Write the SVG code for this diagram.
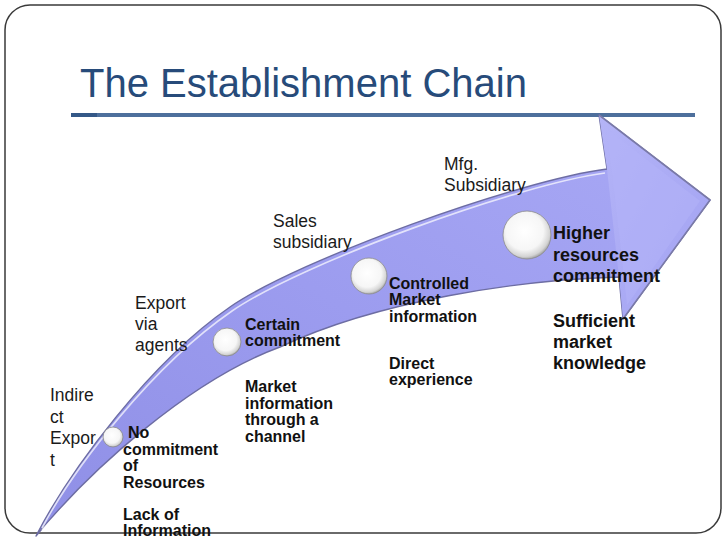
<svg xmlns="http://www.w3.org/2000/svg" width="728" height="546" viewBox="0 0 728 546">
<defs>
  <linearGradient id="bandGrad" x1="0" y1="1" x2="1" y2="0">
    <stop offset="0" stop-color="#8f8fe6"/>
    <stop offset="0.5" stop-color="#9c9cef"/>
    <stop offset="1" stop-color="#a9a9f5"/>
  </linearGradient>
  <linearGradient id="headGrad" x1="0" y1="0" x2="1" y2="1">
    <stop offset="0" stop-color="#b4b4f7"/>
    <stop offset="1" stop-color="#a2a2f2"/>
  </linearGradient>
  <radialGradient id="ball" cx="0.45" cy="0.42" r="0.6">
    <stop offset="0" stop-color="#ffffff"/>
    <stop offset="0.65" stop-color="#f6f6f6"/>
    <stop offset="0.88" stop-color="#d4d4d4"/>
    <stop offset="1" stop-color="#9a9a9a"/>
  </radialGradient>
  <style>
    .frame{fill:#ffffff;stroke:#3a3a3a;stroke-width:1.5}
    .title{font-family:"Liberation Sans",Arial,sans-serif;font-size:40px;fill:#274b7a}
    .lbl{font-family:"Liberation Sans",Arial,sans-serif;font-size:17.5px;fill:#1a1a1a}
    .desc{font-family:"Liberation Sans",Arial,sans-serif;font-size:16px;font-weight:bold;fill:#111111}
    .desc4{font-family:"Liberation Sans",Arial,sans-serif;font-size:18px;font-weight:bold;fill:#111111}
    .ball{fill:url(#ball);stroke:#8c8c8c;stroke-width:0.8}
  </style>
</defs>

<rect class="frame" x="5" y="5" width="716" height="528" rx="25" ry="25"/>

<g id="title">
  <text class="title" x="80" y="97">The Establishment Chain</text>
  <line x1="71" y1="115" x2="695" y2="115" stroke="#4d6f9c" stroke-width="4"/>
  <line x1="71" y1="115" x2="97" y2="115" stroke="#345887" stroke-width="4"/>
</g>

<g id="connectors">
  <g id="chain-arrow">
    <path d="M36,536 C70,470 150,362 230,307 C300,259 520,180 607,169 L599,115 L710,200 L623,319 L619,277 C520,280 380,300 280,347 C190,380 90,470 36,536 Z" fill="url(#bandGrad)" stroke="#6d6da3" stroke-width="1.4" stroke-linejoin="round"/>
    <path d="M607,169 L599,115 L710,200 L623,319 L619,277 Z" fill="url(#headGrad)" stroke="none"/>
    <path d="M612,172 L606,128 L700,201 L627,305 L624,277 Z" fill="#b2b2f7" opacity="0.55"/>
    <path d="M42,528 C74,468 152,366 232,311 C302,263 520,184 605,173" fill="none" stroke="#ffffff" stroke-width="1.6" opacity="0.7"/>
    <path d="M616,281 C520,284 382,304 282,351 C194,384 96,472 42,530" fill="none" stroke="#ffffff" stroke-width="1.6" opacity="0.6"/>
    <path d="M599,115 L710,200 L623,319" fill="none" stroke="#7a7aa8" stroke-width="1.6" stroke-linejoin="round"/>
  </g>
</g>

<g id="stage-indirect-export">
  <circle class="ball" cx="113" cy="437" r="10"/>
  <text class="lbl" x="50" y="401">Indire</text>
  <text class="lbl" x="50" y="423">ct</text>
  <text class="lbl" x="50" y="444">Expor</text>
  <text class="lbl" x="50" y="466">t</text>
  <text class="desc" x="128" y="438">No</text>
  <text class="desc" x="123" y="455">commitment</text>
  <text class="desc" x="123" y="471">of</text>
  <text class="desc" x="123" y="488">Resources</text>
  <text class="desc" x="123" y="520">Lack of</text>
  <text class="desc" x="123" y="536">Information</text>
</g>

<g id="stage-export-via-agents">
  <circle class="ball" cx="227" cy="342" r="14"/>
  <text class="lbl" x="135" y="309">Export</text>
  <text class="lbl" x="135" y="330">via</text>
  <text class="lbl" x="135" y="351">agents</text>
  <text class="desc" x="245" y="330">Certain</text>
  <text class="desc" x="245" y="346">commitment</text>
  <text class="desc" x="245" y="392">Market</text>
  <text class="desc" x="245" y="409">information</text>
  <text class="desc" x="245" y="425">through a</text>
  <text class="desc" x="245" y="442">channel</text>
</g>

<g id="stage-sales-subsidiary">
  <circle class="ball" cx="369" cy="276" r="18"/>
  <text class="lbl" x="273" y="227">Sales</text>
  <text class="lbl" x="273" y="248">subsidiary</text>
  <text class="desc" x="389" y="289">Controlled</text>
  <text class="desc" x="389" y="305">Market</text>
  <text class="desc" x="389" y="322">information</text>
  <text class="desc" x="389" y="369">Direct</text>
  <text class="desc" x="389" y="385">experience</text>
</g>

<g id="stage-mfg-subsidiary">
  <circle class="ball" cx="527" cy="235" r="24"/>
  <text class="lbl" x="444" y="170">Mfg.</text>
  <text class="lbl" x="444" y="191">Subsidiary</text>
  <text class="desc4" x="553" y="239">Higher</text>
  <text class="desc4" x="553" y="261">resources</text>
  <text class="desc4" x="553" y="282">commitment</text>
  <text class="desc4" x="553" y="327">Sufficient</text>
  <text class="desc4" x="553" y="348">market</text>
  <text class="desc4" x="553" y="369">knowledge</text>
</g>
</svg>
